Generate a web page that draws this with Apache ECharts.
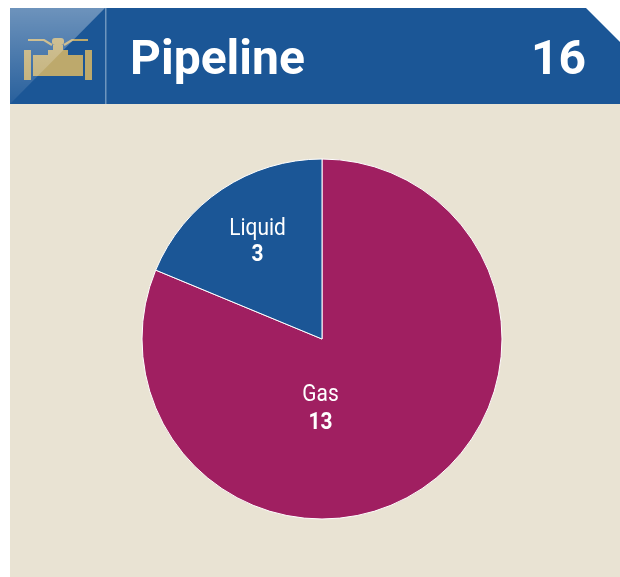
<!DOCTYPE html>
<html><head><meta charset="utf-8">
<style>html,body{margin:0;padding:0;background:#fff}#c{width:620px;height:577px}</style>
<script src="https://cdn.jsdelivr.net/npm/echarts@6/dist/echarts.min.js"></script>
</head><body><div id="c"></div>
<script>
const categories = ['Gas', 'Liquid'];
const values = [13, 3];
const sliceColors = ['#A01F61', '#1B5696'];
const headerTitle = 'Pipeline';
const headerTotal = '16';
const labelSpots = [[320.5, 395, 422.5], [257.5, 229, 255]];
const gold = '#BDA96C';

const sliceLabels = categories.flatMap((name, i) => [
  {type: 'text', z: 20, x: labelSpots[i][0], y: labelSpots[i][1], scaleX: 0.87,
   style: {text: name, fill: '#fff', font: '24px Roboto', textAlign: 'center', textVerticalAlign: 'middle'}},
  {type: 'text', z: 20, x: labelSpots[i][0], y: labelSpots[i][2], scaleX: 0.87,
   style: {text: String(values[i]), fill: '#fff', font: 'bold 24px Roboto', textAlign: 'center', textVerticalAlign: 'middle'}}
]);

const chart = echarts.init(document.getElementById('c'), null, {renderer: 'canvas'});
chart.setOption({
  animation: false,
  backgroundColor: '#ffffff',
  graphic: [
    {type: 'rect', z: -1, shape: {x: 10, y: 104, width: 610, height: 473}, style: {fill: '#E9E3D3'}},
    {type: 'polygon', z: 0, shape: {points: [[10,8],[586,8],[620,42],[620,104],[10,104]]}, style: {fill: '#1B5696'}},
    {type: 'rect', z: 1, shape: {x: 105, y: 8, width: 1.5, height: 96}, style: {fill: '#6E95BE'}},
    {type: 'rect', z: 2, shape: {x: 24, y: 50, width: 7, height: 30}, style: {fill: gold}},
    {type: 'rect', z: 2, shape: {x: 85, y: 50, width: 7, height: 30}, style: {fill: gold}},
    {type: 'rect', z: 2, shape: {x: 33, y: 55, width: 50, height: 21}, style: {fill: gold}},
    {type: 'rect', z: 2, shape: {x: 48, y: 50, width: 20, height: 5}, style: {fill: gold}},
    {type: 'rect', z: 2, shape: {x: 53, y: 45, width: 10, height: 5}, style: {fill: gold}},
    {type: 'rect', z: 2, shape: {x: 52, y: 38, width: 12, height: 7, r: 3}, style: {fill: gold}},
    {type: 'polyline', z: 2, shape: {points: [[28,40],[44,40],[52,45]]}, style: {stroke: gold, lineWidth: 2.2, fill: 'none'}},
    {type: 'polyline', z: 2, shape: {points: [[88,40],[72,40],[64,45]]}, style: {stroke: gold, lineWidth: 2.2, fill: 'none'}},
    {type: 'polygon', z: 3, shape: {points: [[10,8],[105,8],[10,104]]}, style: {
      fill: {type: 'linear', x: 0, y: 0, x2: 0, y2: 1, colorStops: [
        {offset: 0, color: 'rgba(255,255,255,0.36)'}, {offset: 1, color: 'rgba(255,255,255,0.06)'}]}}},
    {type: 'text', z: 4, style: {x: 130, y: 62, text: headerTitle, fill: '#fff', font: 'bold 48px Roboto', textVerticalAlign: 'middle'}},
    {type: 'text', z: 4, style: {x: 586, y: 62, text: headerTotal, fill: '#fff', font: 'bold 48px Roboto', textAlign: 'right', textVerticalAlign: 'middle'}},
    ...sliceLabels
  ],
  series: [{
    type: 'pie',
    center: [322, 339],
    radius: [0, 180],
    startAngle: 90,
    clockwise: true,
    silent: true,
    itemStyle: {borderColor: '#fff', borderWidth: 1},
    label: {show: false},
    labelLine: {show: false},
    data: categories.map((name, i) => ({name, value: values[i], itemStyle: {color: sliceColors[i]}}))
  }]
});
</script></body></html>
